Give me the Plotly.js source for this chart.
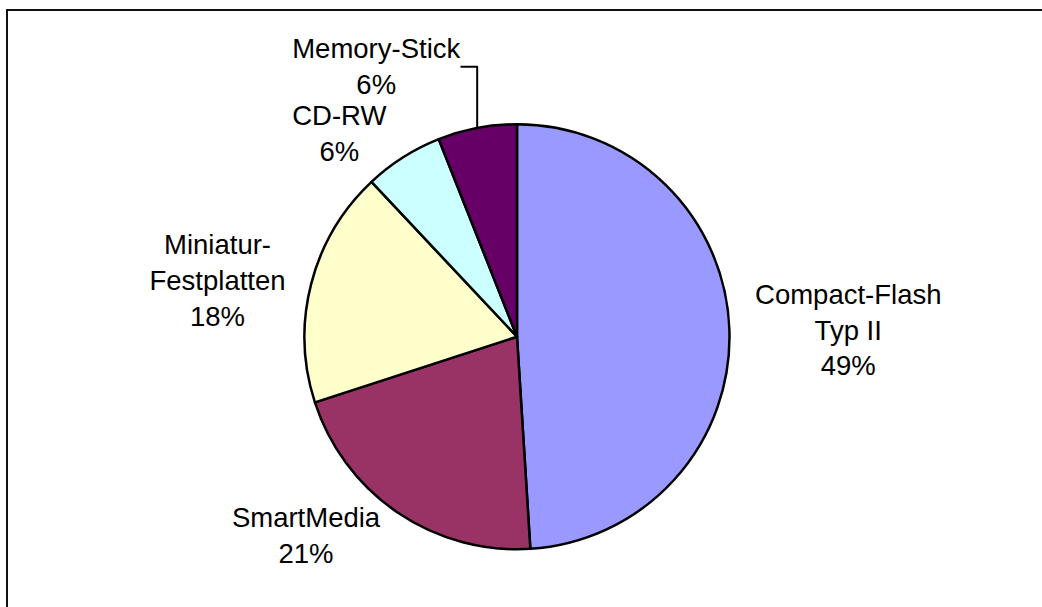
<!DOCTYPE html>
<html>
<head>
<meta charset="utf-8">
<script src="https://cdn.plot.ly/plotly-3.0.1.min.js"></script>
<style>
  html, body { margin: 0; padding: 0; background: #fff; overflow: hidden; }
  #frame { position: absolute; left: 6px; top: 9px; width: 1100px; height: 700px;
           border-left: 2px solid #111; border-top: 2px solid #111; box-sizing: border-box; }
  #chart { position: absolute; left: 0; top: 0; width: 1042px; height: 607px; }
</style>
</head>
<body>
<div id="frame"></div>
<div id="chart"></div>
<script>
const categories = ["Compact-Flash<br>Typ II", "SmartMedia", "Miniatur-<br>Festplatten", "CD-RW", "Memory-Stick"];
const shares = [49, 21, 18, 6, 6];
const sliceColors = ["#9999FF", "#993366", "#FFFFCC", "#CCFFFF", "#660066"];

const W = 1042, H = 607;
const trace = {
  type: "pie",
  labels: categories,
  values: shares,
  sort: false,
  direction: "clockwise",
  rotation: 0,
  marker: { colors: sliceColors, line: { color: "#000", width: 2.5 } },
  textinfo: "label+percent",
  textposition: "outside",
  outsidetextfont: { family: "Liberation Sans, Arial, sans-serif", size: 27.5, color: "#000" },
  hoverinfo: "none",
  showlegend: false,
  domain: { x: [304.5 / W, 729.5 / W], y: [(H - 549.5) / H, (H - 124) / H] }
};

const layout = {
  width: W, height: H,
  margin: { l: 0, r: 0, t: 0, b: 0 },
  paper_bgcolor: "rgba(0,0,0,0)",
  plot_bgcolor: "rgba(0,0,0,0)",
  font: { family: "Liberation Sans, Arial, sans-serif", size: 27.5, color: "#000" },
  showlegend: false
};

Plotly.newPlot("chart", [trace], layout, { displayModeBar: false, staticPlot: true });
</script>
</body>
</html>
